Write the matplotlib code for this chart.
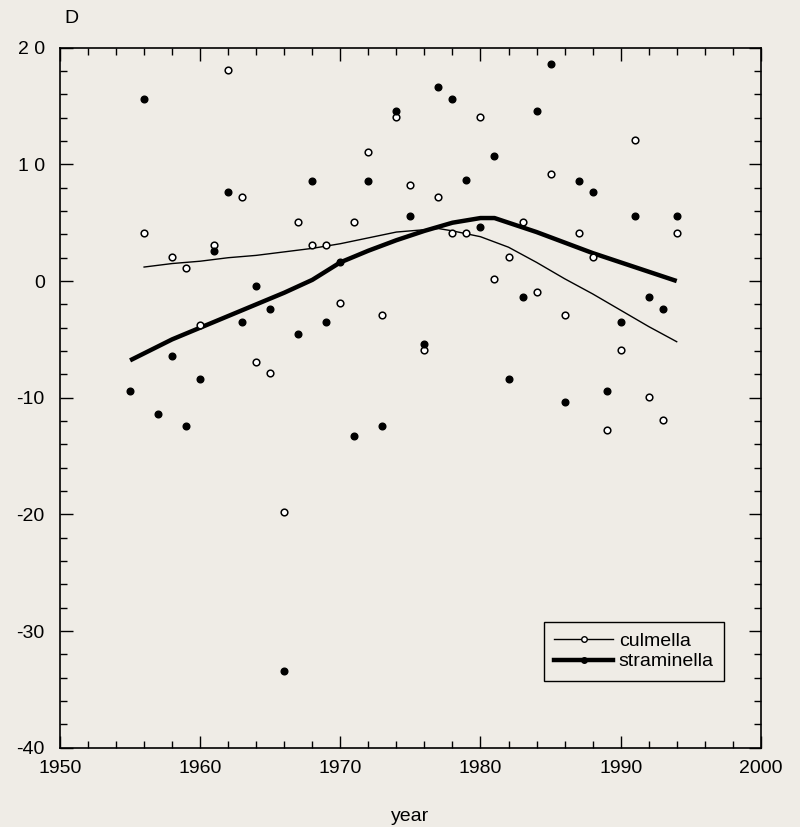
import matplotlib
matplotlib.use("Agg")
import matplotlib.pyplot as plt
from matplotlib.ticker import MultipleLocator
from matplotlib.lines import Line2D

# Culmella (open circles)
cul_years = [1956, 1958, 1959, 1960, 1961, 1962, 1963, 1964, 1965, 1966, 1967, 1968, 1969,
             1970, 1971, 1972, 1973, 1974, 1975, 1976, 1977, 1978, 1979, 1980, 1981, 1982,
             1983, 1984, 1985, 1986, 1987, 1988, 1989, 1990, 1991, 1992, 1993, 1994]
cul_values = [4.1, 2.1, 1.1, -3.8, 3.1, 18.1, 7.2, -6.9, -7.9, -19.8, 5.1, 3.1, 3.1,
              -1.9, 5.1, 11.1, -2.9, 14.1, 8.2, -5.9, 7.2, 4.1, 4.1, 14.1, 0.2, 2.1,
              5.1, -0.9, 9.2, -2.9, 4.1, 2.1, -12.8, -5.9, 12.1, -9.9, -11.9, 4.1]

# Straminella (filled circles)
str_years = list(range(1955, 1995))
str_values = [-9.4, 15.6, -11.4, -6.4, -12.4, -8.4, 2.6, 7.6, -3.5, -0.4,
              -2.4, -33.4, -4.5, 8.6, -3.5, 1.6, -13.3, 8.6, -12.4, 14.6,
              5.6, -5.4, 16.6, 15.6, 8.7, 4.6, 10.7, -8.4, -1.4, 14.6,
              18.6, -10.4, 8.6, 7.6, -9.4, -3.5, 5.6, -1.4, -2.4, 5.6]

# Smoothed trend lines
cul_fit_years = [1956, 1958, 1960, 1962, 1964, 1966, 1968, 1970, 1972, 1974, 1976, 1977,
                 1978, 1980, 1982, 1984, 1986, 1988, 1990, 1992, 1994]
cul_fit_values = [1.2, 1.5, 1.7, 2.0, 2.2, 2.5, 2.8, 3.2, 3.7, 4.2, 4.4, 4.5,
                  4.3, 3.8, 2.9, 1.6, 0.2, -1.1, -2.5, -3.9, -5.2]
str_fit_years = [1955, 1958, 1960, 1962, 1964, 1966, 1968, 1970, 1972, 1974, 1976, 1978,
                 1980, 1981, 1982, 1984, 1986, 1988, 1990, 1992, 1994]
str_fit_values = [-6.8, -5.0, -4.0, -3.0, -2.0, -1.0, 0.1, 1.6, 2.6, 3.5, 4.3, 5.0,
                  5.4, 5.4, 5.0, 4.2, 3.3, 2.4, 1.6, 0.8, 0.0]

bg = "#efece6"
plt.rcParams['font.family'] = ['Liberation Sans', 'DejaVu Sans']

fig = plt.figure(figsize=(8.0, 8.27), dpi=100, facecolor=bg)
ax = fig.add_axes([0.075, 0.0959, 0.876, 0.8464])
ax.set_facecolor(bg)

ax.plot(cul_fit_years, cul_fit_values, color="black", lw=1.0)
ax.plot(str_fit_years, str_fit_values, color="black", lw=3.2, solid_capstyle="butt")
ax.plot(cul_years, cul_values, ls="none", marker="o", ms=4.8, mfc="white",
        mec="black", mew=1.1)
ax.plot(str_years, str_values, ls="none", marker="o", ms=4.8, mfc="black",
        mec="black", mew=1.0)

ax.set_xlim(1950, 2000)
ax.set_ylim(-40, 20)
ax.xaxis.set_major_locator(MultipleLocator(10))
ax.xaxis.set_minor_locator(MultipleLocator(2))
ax.yaxis.set_major_locator(MultipleLocator(10))
ax.yaxis.set_minor_locator(MultipleLocator(2))
ax.tick_params(which="both", direction="in", top=True, right=True, color="black")
ax.tick_params(which="major", length=9, width=1.0, labelsize=14)
ax.tick_params(axis="x", which="major", pad=9)
ax.tick_params(axis="y", which="major", pad=11)
ax.tick_params(which="minor", length=5, width=1.0)
for s in ax.spines.values():
    s.set_linewidth(1.2)

ax.set_yticks([-40, -30, -20, -10, 0, 10, 20])
ax.set_yticklabels(["-40", "-30", "-20", "-10", "0", "1 0", "2 0"])
ax.set_xlabel("year", fontsize=14, labelpad=22)

fig.text(0.08, 0.978, "D", fontsize=14, ha="left", va="center")

handles = [Line2D([], [], color="black", lw=1.0, marker="o", ms=4, mfc="white", mec="black"),
           Line2D([], [], color="black", lw=3.2, marker="o", ms=4, mfc="black", mec="black")]
leg = ax.legend(handles, ["culmella", "straminella"], loc="lower right",
                bbox_to_anchor=(0.948, 0.095), fontsize=14, frameon=True, fancybox=False,
                edgecolor="black", facecolor=bg, framealpha=1, handlelength=3.0,
                borderpad=0.55, labelspacing=0.15, handletextpad=0.3, borderaxespad=0.0)
leg.get_frame().set_linewidth(1.0)

fig.savefig("out.png", dpi=100, facecolor=bg)
